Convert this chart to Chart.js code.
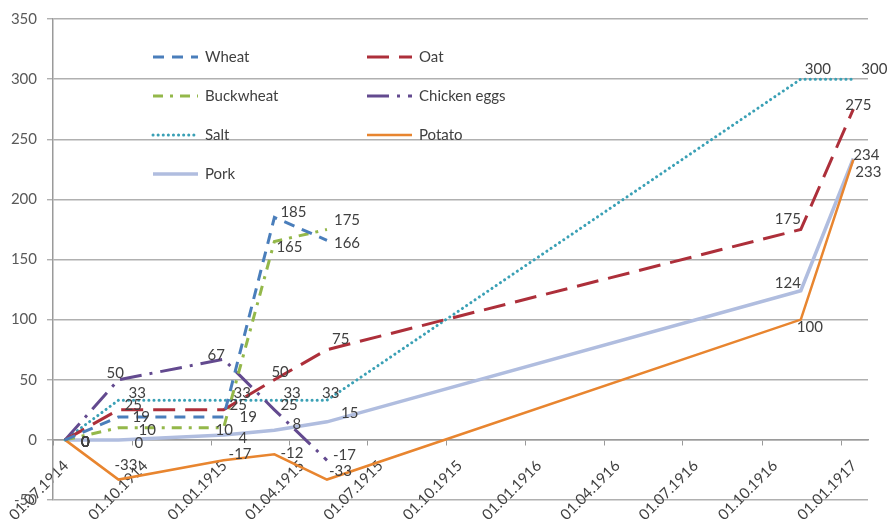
<!DOCTYPE html>
<html>
<head>
<meta charset="utf-8">
<script src="https://cdn.jsdelivr.net/npm/chart.js@4"></script>
<style>
  html, body { margin: 0; padding: 0; background: #fff; }
  #wrap { width: 887px; height: 523px; }
</style>
</head>
<body>
<div id="wrap"><canvas id="myChart"></canvas></div>
<script>
// observation dates (dd.mm.yyyy) and price change in % per product
var dates = ['15.07.1914', '15.09.1914', '15.01.1915', '15.03.1915', '15.05.1915', '15.11.1916', '15.01.1917'];
var wheat = [0, 19, 19, 185, 166, null, null];
var oat = [0, 25, 25, 50, 75, 175, 275];
var buckwheat = [0, 10, 10, 165, 175, null, null];
var chickenEggs = [0, 50, 67, 25, -17, null, null];
var salt = [0, 33, 33, 33, 33, 300, 300];
var potato = [0, -33, -17, -12, -33, 100, 233];
var pork = [0, 0, 4, 8, 15, 124, 234];

var tickDates = ['01.07.1914', '01.10.1914', '01.01.1915', '01.04.1915', '01.07.1915', '01.10.1915',
                 '01.01.1916', '01.04.1916', '01.07.1916', '01.10.1916', '01.01.1917'];
var axisStart = '01.07.1914';
var axisEnd = '01.02.1917';

// days since 01.07.1914
function dayNum(s) {
    var p = s.split('.').map(Number);
    return (Date.UTC(p[2], p[1] - 1, p[0]) - Date.UTC(1914, 6, 1)) / 86400000;
}
function series(values) {
    return values.map(function(v, i) { return {x: dayNum(dates[i]), y: v}; });
}
var tickText = {};
tickDates.forEach(function(s) { tickText[dayNum(s)] = s; });

// where the value labels sit relative to their point (dx, dy)
var labelShift = {
    'Chicken eggs': {1: [-12, -7], 2: [-16, -4]},
    'Potato': {1: [-4, -14], 2: [5, -6], 3: [6, -1], 4: [2, -8], 5: [-4, 8], 6: [2, 12]},
    'Pork': {1: [16, 3], 2: [15, 3], 3: [18, -6], 4: [14, -9], 5: [-26, -8], 6: [0, -3]},
    'Oat': {3: [-3, -8], 4: [5, -11], 5: [-26, -10], 6: [-8, -4]},
    'Buckwheat': {1: [20, 2], 2: [-8, 2], 3: [2, 6], 4: [7, -9]},
    'Wheat': {1: [14, 0], 2: [16, 0], 4: [7, 3]},
    'Salt': {1: [10, -7], 2: [10, -7], 3: [9, -7], 4: [-5, -7], 5: [4, -10], 6: [8, -10]}
};
var defaultShift = [6, -5];

const valueLabels = {
    id: 'valueLabels',
    afterDatasetsDraw: (chart) => {
        const {ctx} = chart;
        ctx.save();
        ctx.font = '15px Lato';
        ctx.fillStyle = '#404040';
        ctx.textAlign = 'left';
        ctx.textBaseline = 'middle';
        chart.data.datasets.forEach(function(ds, i) {
            var meta = chart.getDatasetMeta(i);
            meta.data.forEach(function(pt, j) {
                var v = ds.data[j].y;
                if (v === null) return;
                var sh = (labelShift[ds.label] || {})[j] || defaultShift;
                if (j === 0) sh = [16, 2];
                ctx.fillText(String(v), pt.x + sh[0], pt.y + sh[1]);
            });
        });
        ctx.restore();
    }
};

// legend placed inside the plot, two columns like the original
const insideLegend = {
    id: 'insideLegend',
    afterDraw: (chart) => {
        const {ctx} = chart;
        ctx.save();
        chart.data.datasets.forEach(function(ds, i) {
            var x = 153 + (i % 2) * 214;
            var y = 57 + Math.floor(i / 2) * 39;
            ctx.strokeStyle = ds.borderColor;
            ctx.lineWidth = ds.borderWidth;
            ctx.lineCap = ds.borderCapStyle || 'butt';
            ctx.setLineDash(ds.borderDash || []);
            ctx.beginPath();
            ctx.moveTo(x, y);
            ctx.lineTo(x + 45, y);
            ctx.stroke();
            ctx.setLineDash([]);
            ctx.font = '15px Lato';
            ctx.fillStyle = '#404040';
            ctx.textBaseline = 'middle';
            ctx.fillText(ds.label, x + 52, y);
        });
        ctx.restore();
    }
};

Chart.defaults.font.family = 'Lato';

new Chart(document.getElementById('myChart'), {
    type: 'line',
    data: {
        datasets: [
        {
            label: 'Wheat',
            data: series(wheat),
            borderColor: '#4a7ebb',
            borderWidth: 3,
            borderDash: [11, 8],
        },
        {
            label: 'Oat',
            data: series(oat),
            borderColor: '#ad2f3a',
            borderWidth: 3,
            borderDash: [22, 10],
        },
        {
            label: 'Buckwheat',
            data: series(buckwheat),
            borderColor: '#94b84a',
            borderWidth: 3,
            borderDash: [10, 7, 3, 7],
        },
        {
            label: 'Chicken eggs',
            data: series(chickenEggs),
            borderColor: '#634a8f',
            borderWidth: 3,
            borderDash: [22, 8, 3, 8],
        },
        {
            label: 'Salt',
            data: series(salt),
            borderColor: '#3aa0b5',
            borderWidth: 3,
            borderDash: [0.1, 5],
            borderCapStyle: 'round',
        },
        {
            label: 'Potato',
            data: series(potato),
            borderColor: '#e8852f',
            borderWidth: 2.5,
        },
        {
            label: 'Pork',
            data: series(pork),
            borderColor: '#b0bddf',
            borderWidth: 3.5,
        },
    ]
    },
    options: {
        responsive: true,
        maintainAspectRatio: false,
        animation: false,
        events: [],
        elements: {
            point: {radius: 0},
            line: {tension: 0},
        },
        layout: {padding: {left: 0, right: 19, top: 17, bottom: 23}},
        plugins: {
            legend: {display: false},
            tooltip: {enabled: false},
        },
        scales: {
            x: {
                type: 'linear',
                position: {y: 0},
                min: dayNum(axisStart),
                max: dayNum(axisEnd),
                afterBuildTicks: (scale) => {
                    scale.ticks = tickDates.map(function(s) { return {value: dayNum(s)}; });
                },
                afterFit: (scale) => {
                    scale.height = 0;
                    scale.paddingLeft = 0;
                    scale.paddingRight = 0;
                },
                grid: {drawOnChartArea: false, drawTicks: true, tickLength: 5, color: '#9a9a9a'},
                border: {display: true, color: '#9a9a9a', width: 1.5},
                ticks: {
                    autoSkip: false,
                    minRotation: 45,
                    maxRotation: 45,
                    padding: 12,
                    labelOffset: 13,
                    color: '#404040',
                    font: {size: 15},
                    callback: function(value) { return tickText[value]; },
                },
            },
            y: {
                min: -50,
                max: 350,
                afterFit: (scale) => { scale.width = 53; },
                grid: {color: '#b0b0b0', lineWidth: 1.4, tickLength: 6},
                border: {display: true, color: '#9a9a9a', width: 1.5},
                ticks: {
                    stepSize: 50,
                    padding: 10,
                    color: '#595959',
                    font: {size: 15},
                },
            },
        },
    },
    plugins: [valueLabels, insideLegend],
});
</script>
</body>
</html>
